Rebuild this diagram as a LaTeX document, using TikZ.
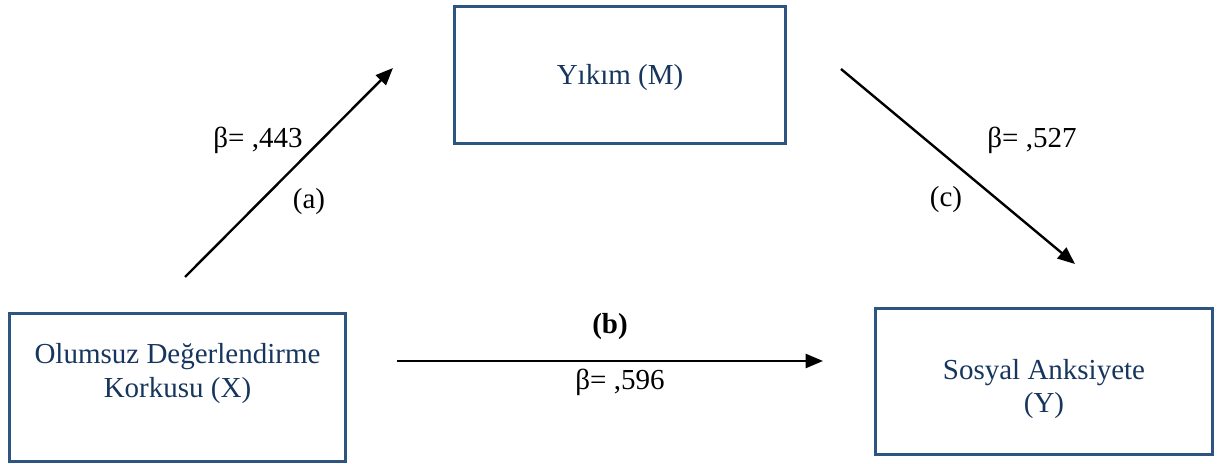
\documentclass[tikz,border=0pt]{standalone}
\usepackage{fontspec}
\setmainfont{Liberation Serif}
\usepackage{tikz}
\usetikzlibrary{arrows.meta}
\definecolor{boxblue}{RGB}{46,84,130}
\definecolor{navy}{RGB}{23,54,93}

\begin{document}
\begin{tikzpicture}[
  x=0.75pt, y=0.75pt,
  font=\fontsize{21.75}{25}\selectfont, >={Triangle[length=13pt,width=10.5pt]},
  bx/.style={draw=boxblue, line width=2.2pt, inner sep=0pt},
  txt/.style={text=navy, align=center, inner sep=0pt},
  lb/.style={inner sep=0pt},
  a/.style={->, line width=1.8pt, draw=black},
]
\useasboundingbox (0,0) rectangle (1221,464);

% boxes
\node[bx, minimum width=252pt, minimum height=111pt] (boxX) at (177.5,76.5) {};
\node[bx, minimum width=248pt, minimum height=103pt] (boxM) at (620,389) {};
\node[bx, minimum width=253pt, minimum height=110pt] (boxY) at (1044,82.5) {};

\node[txt] (txtX) at (177.5,90.5) {Olumsuz Değerlendirme\\Korkusu (X)};
\node[txt] (txtM) at (620,386.5) {Yıkım (M)};
\node[txt] (txtY) at (1044,75) {Sosyal Anksiyete\\(Y)};

% free arrow ends
\coordinate (aS) at (185,187);
\coordinate (aE) at (393,396);
\coordinate (cS) at (841,395);
\coordinate (cE) at (1075,200);
\coordinate (bS) at (397,103);
\coordinate (bE) at (823,103);

\draw[a] (aS) -- (aE);
\draw[a] (cS) -- (cE);
\draw[a] (bS) -- (bE);

% path labels
\node[lb] (betaA) at (258,324) {β= ,443};
\node[lb] (labA) at (309,262) {(a)};
\node[lb, font=\fontsize{21.75}{25}\selectfont\bfseries] (labB) at (610,137) {(b)};
\node[lb] (betaB) at (620,82) {β= ,596};
\node[lb] (betaC) at (1032,324) {β= ,527};
\node[lb] (labC) at (946,264) {(c)};
\end{tikzpicture}
\end{document}
